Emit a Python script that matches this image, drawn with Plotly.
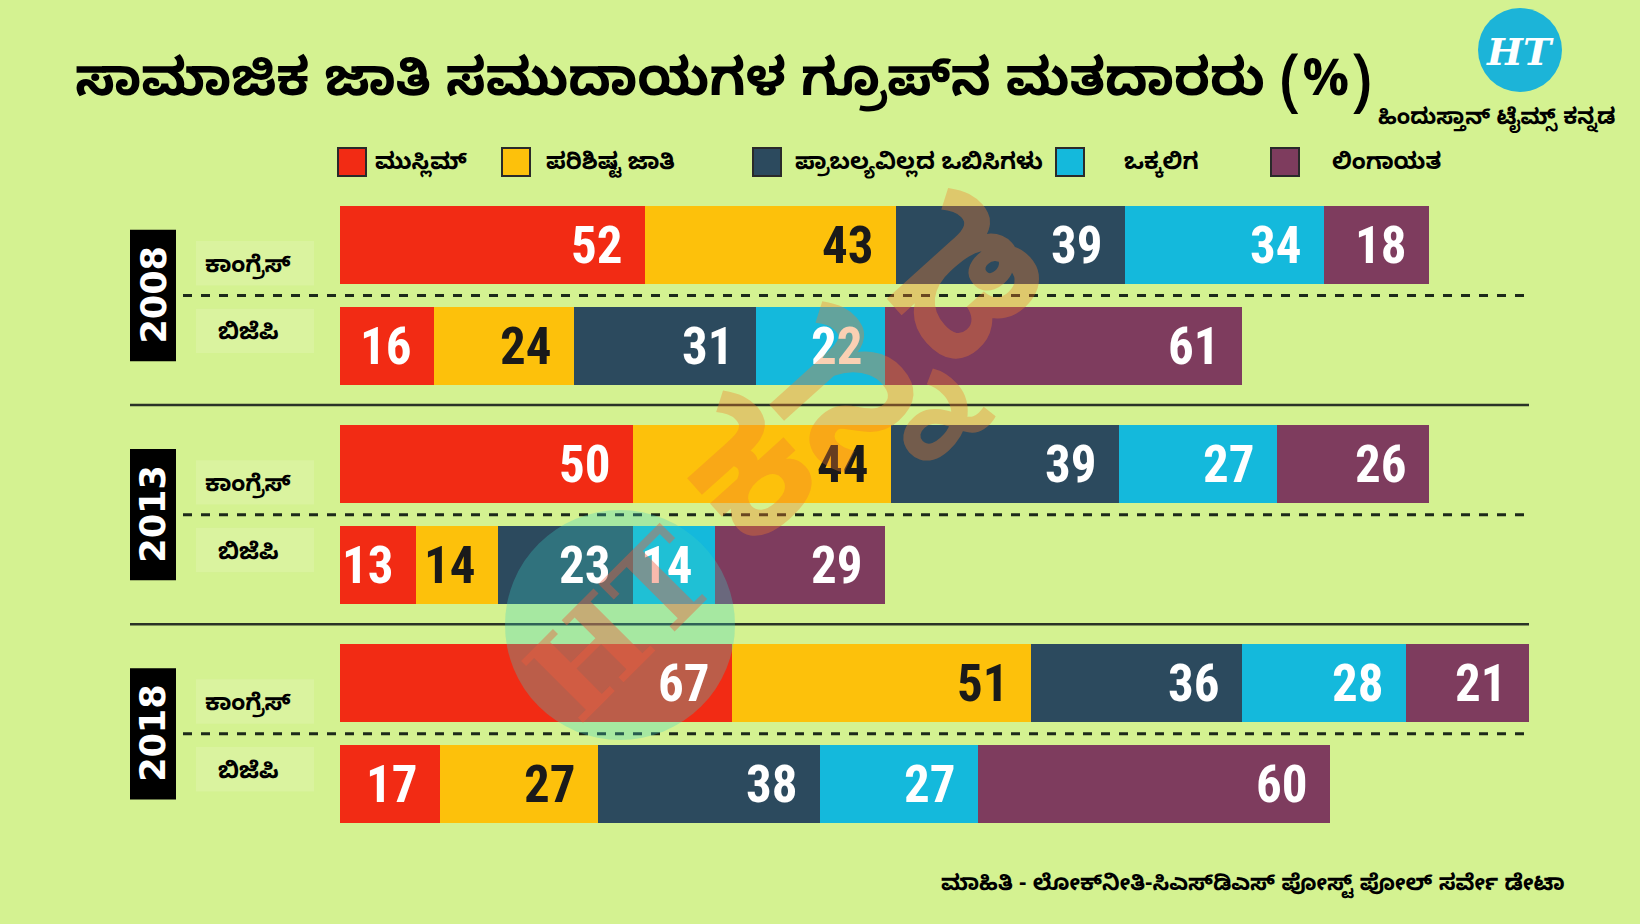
import plotly.graph_objects as go

# ---------------- data ----------------
years = ["2008", "2013", "2018"]
parties = ["ಕಾಂಗ್ರೆಸ್", "ಬಿಜೆಪಿ"]
groups = ["ಮುಸ್ಲಿಮ್", "ಪರಿಶಿಷ್ಟ ಜಾತಿ", "ಪ್ರಾಬಲ್ಯವಿಲ್ಲದ ಒಬಿಸಿಗಳು", "ಒಕ್ಕಲಿಗ", "ಲಿಂಗಾಯತ"]
# rows: 2008 Cong, 2008 BJP, 2013 Cong, 2013 BJP, 2018 Cong, 2018 BJP
muslim    = [52, 16, 50, 13, 67, 17]
sc        = [43, 24, 44, 14, 51, 27]
obc       = [39, 31, 39, 23, 36, 38]
vokkaliga = [34, 22, 27, 14, 28, 27]
lingayat  = [18, 61, 26, 29, 21, 60]
series = [muslim, sc, obc, vokkaliga, lingayat]

title = "ಸಾಮಾಜಿಕ ಜಾತಿ ಸಮುದಾಯಗಳ ಗ್ರೂಪ್‌ನ ಮತದಾರರು (%)"
brand = "ಹಿಂದುಸ್ತಾನ್ ಟೈಮ್ಸ್ ಕನ್ನಡ"
source = "ಮಾಹಿತಿ - ಲೋಕ್‌ನೀತಿ-ಸಿಎಸ್‌ಡಿಎಸ್ ಪೋಸ್ಟ್ ಪೋಲ್ ಸರ್ವೇ ಡೇಟಾ"
watermark = "ಕನ್ನಡ"

# ---------------- style ----------------
W, H = 1640, 924
BG = "#d4f291"
colors = ["#f22b14", "#fdc10b", "#2c4a5e", "#14b9dc", "#7e3c5e"]
text_colors = ["white", "#1a1a1a", "white", "white", "white"]
KFONT = "Noto Sans Kannada, Noto Sans, Lato, sans-serif"
NFONT = "Liberation Sans Narrow, Roboto Condensed, Roboto, sans-serif"

ROW_STEP = 1.0
GROUP_STEP = 2.17
BAR_W = 0.77
PX_PER_ROW = 101.0
FIRST_CENTER_PX = 245.0

ypos = []
for g in range(len(years)):
    for p in range(len(parties)):
        ypos.append(g * GROUP_STEP + p * ROW_STEP)

y_top = -FIRST_CENTER_PX / PX_PER_ROW
y_bot = (H - FIRST_CENTER_PX) / PX_PER_ROW

totals = [sum(s[i] for s in series) for i in range(len(ypos))]
xmax = max(totals)
X0_PX, X1_PX = 340, 1529

fig = go.Figure()
for name, vals, col in zip(groups, series, colors):
    fig.add_trace(go.Bar(
        x=vals, y=ypos, orientation="h", name=name,
        marker=dict(color=col, line=dict(width=0)),
        width=BAR_W, showlegend=False, hoverinfo="x+name",
    ))

annotations = []
shapes = []

def px(v):
    return v / W

def py(v):
    return 1 - v / H

def note(x, y, text, size, color="black", family=KFONT, xref="paper", yref="paper",
         xanchor="center", yanchor="middle", **kw):
    annotations.append(dict(x=x, y=y, xref=xref, yref=yref, text=text, showarrow=False,
                            xanchor=xanchor, yanchor=yanchor,
                            font=dict(family=family, size=size, color=color), **kw))

# value labels
for i, y in enumerate(ypos):
    cum = 0
    for k, vals in enumerate(series):
        cum += vals[i]
        note(cum, y, f"<b>{vals[i]}</b>", 51, text_colors[k], NFONT, "x", "y",
             xanchor="right", xshift=-20)

# separators, year boxes, party labels
for g in range(len(years)):
    yd = g * GROUP_STEP + 0.5 * ROW_STEP
    shapes.append(dict(type="line", xref="paper", yref="y",
                       x0=px(183), x1=px(1529), y0=yd, y1=yd,
                       line=dict(color="#1d2a1a", width=3, dash="dash")))
    if g > 0:
        ys = (g - 1) * GROUP_STEP + 1 + (GROUP_STEP - 1) / 2
        shapes.append(dict(type="line", xref="paper", yref="y",
                           x0=px(130), x1=px(1529), y0=ys, y1=ys,
                           line=dict(color="#2a3327", width=2.5)))
    shapes.append(dict(type="rect", xref="paper", yref="y",
                       x0=px(130), x1=px(176), y0=yd - 0.65, y1=yd + 0.65,
                       fillcolor="black", line=dict(width=0), layer="above"))
    note(px(153), yd, f"<b>{years[g]}</b>", 35, "white", "DejaVu Sans, sans-serif",
         yref="y", textangle=-90)
    for p in range(len(parties)):
        yp = g * GROUP_STEP + p * ROW_STEP + (0.18 if p == 0 else -0.15)
        shapes.append(dict(type="rect", xref="paper", yref="y",
                           x0=px(196), x1=px(314), y0=yp - 0.22, y1=yp + 0.22,
                           fillcolor="rgba(235,248,205,0.25)", line=dict(width=0), layer="below"))
        note(px(248), yp + 0.05, f"<b>{parties[p]}</b>", 23, yref="y")

# legend (manual, built from the series names and colours)
leg_sq_x = [338, 502, 753, 1056, 1271]
leg_txt_x = [373, 544, 793, 1122, 1330]
for k in range(len(groups)):
    shapes.append(dict(type="rect", xref="paper", yref="paper",
                       x0=px(leg_sq_x[k]), x1=px(leg_sq_x[k] + 28),
                       y0=py(176), y1=py(148),
                       fillcolor=colors[k], line=dict(color="#2a2a2a", width=2)))
    note(px(leg_txt_x[k]), py(165), f"<b>{groups[k]}</b>", 23, xanchor="left")

# title, brand, source
note(px(73), py(88), f"<b>{title}</b>", 52, xanchor="left")
shapes.append(dict(type="circle", xref="paper", yref="paper",
                   x0=px(1478), x1=px(1562), y0=py(92), y1=py(8),
                   fillcolor="#1cb4d8", line=dict(width=0)))
note(px(1520), py(52), "<b><i>HT</i></b>", 38, "white", "DejaVu Serif, serif")
note(px(1496), py(121), f"<b>{brand}</b>", 22)
note(px(1253), py(887), f"<b>{source}</b>", 22)

# watermarks
shapes.append(dict(type="circle", xref="paper", yref="paper",
                   x0=px(505), x1=px(735), y0=py(740), y1=py(510),
                   fillcolor="rgba(60,210,200,0.30)", line=dict(width=0), layer="above"))
note(px(620), py(625), "<b>HT</b>", 120, "rgba(240,90,60,0.42)", "DejaVu Serif, serif",
     textangle=-45)
note(px(885), py(398), f"<b>{watermark}</b>", 175, "rgba(240,125,45,0.36)", KFONT,
     textangle=-42)

fig.update_layout(
    width=W, height=H, barmode="stack",
    paper_bgcolor=BG, plot_bgcolor="rgba(0,0,0,0)",
    margin=dict(l=0, r=0, t=0, b=0),
    xaxis=dict(domain=[X0_PX / W, X1_PX / W], range=[0, xmax], visible=False, fixedrange=True),
    yaxis=dict(domain=[0, 1], range=[y_bot, y_top], visible=False, fixedrange=True),
    annotations=annotations, shapes=shapes, bargap=0,
)

fig.write_html("out.html")
